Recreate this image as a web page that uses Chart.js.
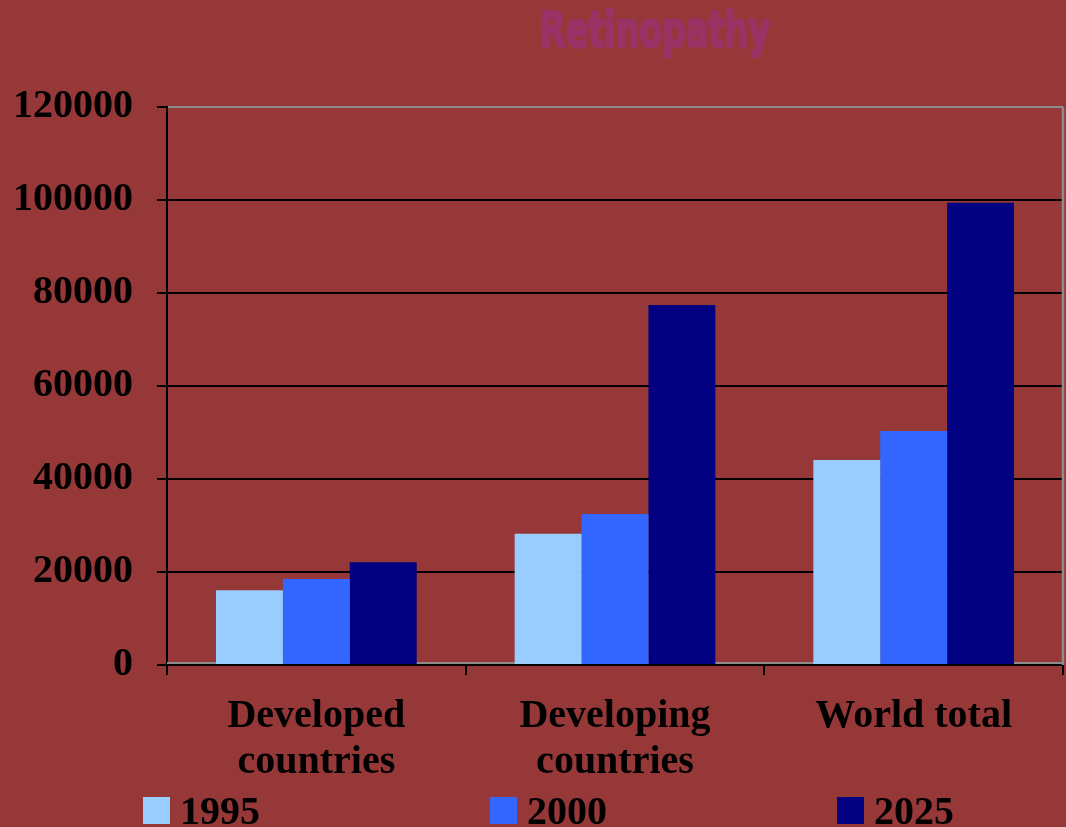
<!DOCTYPE html>
<html>
<head>
<meta charset="utf-8">
<script src="https://cdn.jsdelivr.net/npm/chart.js@4/dist/chart.umd.min.js"></script>
<style>
  html, body { margin: 0; padding: 0; background: #963838; }
  #wrap { position: relative; width: 1066px; height: 827px; }
  #title {
    position: absolute; left: 655px; top: 2px;
    transform: translateX(-50%) scaleX(0.68);
    font: bold 49px "DejaVu Sans", sans-serif; color: #993366;
    -webkit-text-stroke: 2.5px #993366;
    white-space: nowrap;
  }
  canvas { display: block; }
</style>
</head>
<body>
<div id="wrap">
  <div id="title">Retinopathy</div>
  <canvas id="chart" width="1066" height="827"></canvas>
</div>
<script>
const categories = [['Developed', 'countries'], ['Developing', 'countries'], 'World total'];
const seriesNames = ['1995', '2000', '2025'];
const values1995 = [16100, 28200, 44100];
const values2000 = [18500, 32500, 50300];
const values2025 = [22100, 77400, 99400];
const yTicks = [0, 20000, 40000, 60000, 80000, 100000, 120000];

const seriesColors = ['#99ccff', '#3366ff', '#000080'];
const labelFont = { family: '"Liberation Serif", "Times New Roman", serif', weight: 'bold', size: 40 };

// grey frame on the top/right edges plus the floor line above the axis
const framePlugin = {
  id: 'frame',
  beforeDatasetsDraw(chart) {
    const { ctx, chartArea: a } = chart;
    ctx.save();
    ctx.strokeStyle = '#8c8c8c';
    ctx.lineWidth = 2.5;
    ctx.beginPath();
    ctx.moveTo(a.right, a.top);
    ctx.lineTo(a.right, a.bottom);
    ctx.stroke();
    ctx.lineWidth = 2;
    ctx.beginPath();
    ctx.moveTo(a.left, a.bottom - 2);
    ctx.lineTo(a.right, a.bottom - 2);
    ctx.stroke();
    ctx.restore();
  }
};

// legend row laid out at fixed spacing under the axis labels
const legendRow = {
  id: 'legendRow',
  afterDraw(chart) {
    const { ctx } = chart;
    ctx.save();
    ctx.font = `bold ${labelFont.size}px ${labelFont.family}`;
    ctx.textBaseline = 'alphabetic';
    chart.data.datasets.forEach((ds, i) => {
      const x = 143 + i * 347;
      ctx.fillStyle = ds.backgroundColor;
      ctx.fillRect(x, 797, 27, 27);
      ctx.fillStyle = '#000';
      ctx.fillText(ds.label, x + 37, 824);
    });
    ctx.restore();
  }
};

new Chart(document.getElementById('chart'), {
  type: 'bar',
  data: {
    labels: categories,
    datasets: [
      { label: seriesNames[0], data: values1995, backgroundColor: seriesColors[0] },
      { label: seriesNames[1], data: values2000, backgroundColor: seriesColors[1] },
      { label: seriesNames[2], data: values2025, backgroundColor: seriesColors[2] }
    ]
  },
  options: {
    responsive: false,
    animation: false,
    devicePixelRatio: 1,
    layout: { padding: { top: 107, right: 3, bottom: 40, left: 0 } },
    datasets: { bar: { categoryPercentage: 0.672, barPercentage: 1, borderWidth: 0 } },
    plugins: { legend: { display: false }, tooltip: { enabled: false } },
    scales: {
      x: {
        afterFit(scale) { scale.height = 122; },
        grid: { offset: true, drawOnChartArea: false, tickLength: 10, tickColor: '#000', lineWidth: 2 },
        border: { display: true, color: '#000', width: 2 },
        ticks: { color: '#000', font: { ...labelFont, lineHeight: 1.15 }, padding: 19, maxRotation: 0, autoSkip: false }
      },
      y: {
        min: 0,
        max: 120000,
        afterFit(scale) { scale.width = 167; },
        afterBuildTicks(scale) { scale.ticks = yTicks.map(v => ({ value: v })); },
        grid: {
          color: ctx => (ctx.tick && ctx.tick.value === 120000 ? '#8c8c8c' : '#000'),
          tickColor: '#000',
          lineWidth: 2,
          tickLength: 10
        },
        border: { display: true, color: '#000', width: 2 },
        ticks: { color: '#000', font: labelFont, padding: 24, callback: v => String(v) }
      }
    }
  },
  plugins: [framePlugin, legendRow]
});
</script>
</body>
</html>
